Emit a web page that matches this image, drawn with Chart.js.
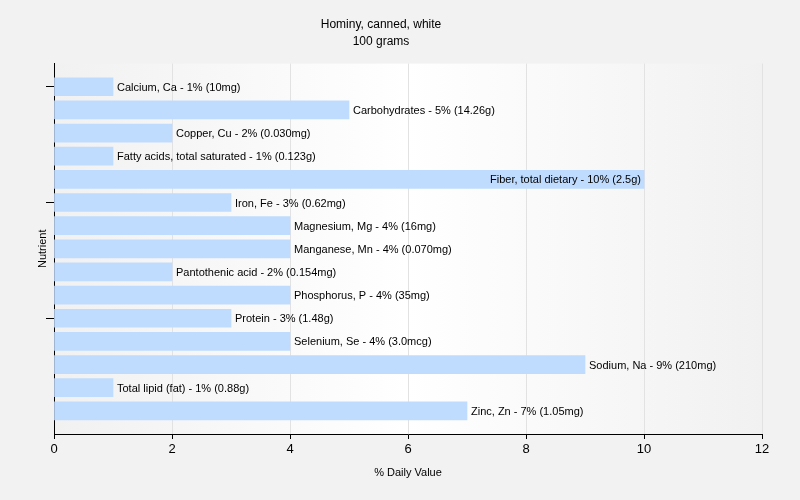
<!DOCTYPE html>
<html lang="en">
<head>
    <meta charset="UTF-8">
    <title>Hominy, canned, white</title>
    <script src="https://cdn.jsdelivr.net/npm/chart.js"></script>
    <style>
        body { margin: 0; background: #f2f2f2; }
        #wrap { width: 800px; height: 500px; }
    </style>
</head>
<body>
    <div id="wrap"><canvas id="nutrientChart" width="800" height="500"></canvas></div>
    <script>
        // Data
        const nutrients = ['Calcium, Ca', 'Carbohydrates', 'Copper, Cu', 'Fatty acids, total saturated',
            'Fiber, total dietary', 'Iron, Fe', 'Magnesium, Mg', 'Manganese, Mn', 'Pantothenic acid',
            'Phosphorus, P', 'Protein', 'Selenium, Se', 'Sodium, Na', 'Total lipid (fat)', 'Zinc, Zn'];
        const dailyValues = [1, 5, 2, 1, 10, 3, 4, 4, 2, 4, 3, 4, 9, 1, 7];
        const amounts = ['10mg', '14.26g', '0.030mg', '0.123g', '2.5g', '0.62mg', '16mg', '0.070mg',
            '0.154mg', '35mg', '1.48g', '3.0mcg', '210mg', '0.88g', '1.05mg'];
        const xTicks = [0, 2, 4, 6, 8, 10, 12];
        const yTicks = [0, 5, 10];

        const fontFamily = '"Liberation Sans", Arial, sans-serif';

        // gradient behind the plot area
        const plotBackground = {
            id: 'plotBackground',
            beforeDraw(chart) {
                const { ctx, chartArea: a } = chart;
                const g = ctx.createLinearGradient(a.left, 0, a.right, 0);
                g.addColorStop(0, '#f1f1f1');
                g.addColorStop(0.5, '#ffffff');
                g.addColorStop(1, '#f1f1f1');
                ctx.save();
                ctx.fillStyle = g;
                ctx.fillRect(a.left, a.top, a.right - a.left, a.bottom - a.top);
                ctx.restore();
            }
        };

        // label next to each bar
        const barLabels = {
            id: 'barLabels',
            afterDatasetsDraw(chart) {
                const { ctx, chartArea } = chart;
                const meta = chart.getDatasetMeta(0);
                ctx.save();
                ctx.font = '11px ' + fontFamily;
                ctx.fillStyle = '#000';
                ctx.textBaseline = 'middle';
                meta.data.forEach((bar, i) => {
                    const text = nutrients[i] + ' - ' + dailyValues[i] + '% (' + amounts[i] + ')';
                    const w = ctx.measureText(text).width;
                    if (bar.x + 4 + w > chartArea.right) {
                        ctx.textAlign = 'right';
                        ctx.fillText(text, bar.x - 3, bar.y + 1);
                    } else {
                        ctx.textAlign = 'left';
                        ctx.fillText(text, bar.x + 4, bar.y + 1);
                    }
                });
                ctx.restore();
            }
        };

        const ctx = document.getElementById('nutrientChart').getContext('2d');
        const nutrientChart = new Chart(ctx, {
            type: 'bar',
            data: {
                datasets: [{
                    data: dailyValues.map((v, i) => ({ x: v, y: i })),
                    backgroundColor: '#bfdbfd',
                    borderWidth: 0,
                    barThickness: 18
                }]
            },
            options: {
                indexAxis: 'y',
                responsive: false,
                animation: false,
                layout: { padding: { top: 0, right: 38, left: 0, bottom: 0 } },
                plugins: {
                    legend: { display: false },
                    tooltip: { enabled: false },
                    title: {
                        display: true,
                        text: ['Hominy, canned, white', '100 grams'],
                        color: '#000',
                        font: { family: fontFamily, size: 12, weight: 'normal', lineHeight: 1.4 },
                        padding: { top: 16, bottom: 14 }
                    }
                },
                scales: {
                    x: {
                        type: 'linear',
                        min: 0,
                        max: 12,
                        afterBuildTicks: (axis) => { axis.ticks = xTicks.map(v => ({ value: v })); },
                        afterFit: (axis) => { axis.height = 66; },
                        border: { color: '#000', width: 1 },
                        grid: { color: '#e2e2e2', tickColor: '#000', tickLength: 5 },
                        ticks: { color: '#000', font: { family: fontFamily, size: 13 }, padding: 3 },
                        title: {
                            display: true,
                            text: '% Daily Value',
                            color: '#000',
                            font: { family: fontFamily, size: 11 },
                            padding: { top: 0, bottom: 20 }
                        }
                    },
                    y: {
                        type: 'linear',
                        min: -1,
                        max: 15,
                        reverse: true,
                        offset: false,
                        afterBuildTicks: (axis) => { axis.ticks = yTicks.map(v => ({ value: v })); },
                        afterFit: (axis) => { axis.width = 54; },
                        border: { color: '#000', width: 1 },
                        grid: { offset: false, drawOnChartArea: false, tickColor: '#000', tickLength: 8 },
                        ticks: { callback: () => '', padding: 0 },
                        title: {
                            display: true,
                            text: 'Nutrient',
                            color: '#000',
                            font: { family: fontFamily, size: 11 },
                            padding: { top: 36, bottom: 0 }
                        }
                    }
                }
            },
            plugins: [plotBackground, barLabels]
        });
    </script>
</body>
</html>
